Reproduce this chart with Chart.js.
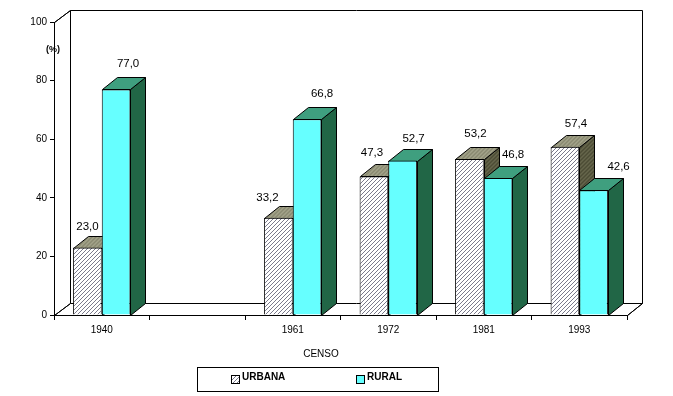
<!DOCTYPE html>
<html lang="pt">
<head>
  <meta charset="UTF-8" />
  <title>Censo - urbana e rural</title>
  <script src="https://cdn.jsdelivr.net/npm/chart.js"></script>
  <style>
    html, body { margin: 0; padding: 0; background: #fff; }
    #wrap { position: relative; width: 673px; height: 396px; }
  </style>
</head>
<body>
  <div id="wrap"><canvas id="censo" width="673" height="396"></canvas></div>
  <script>
    const years = ['1940', '', '1961', '1972', '1981', '1993'];
    const urbana = [23.0, null, 33.2, 47.3, 53.2, 57.4];
    const rural = [77.0, null, 66.8, 52.7, 46.8, 42.6];

    // label nudges from the bar's top centre, the original has them moved by hand
    const urbanaNudge = [[0, -21], null, [-11, -20], [-2, -24], [6, -25], [11, -23]];
    const ruralNudge = [[12, -26], null, [15, -25], [11, -22], [15, -23], [25, -23]];

    const depthX = 15;
    const depthY = 12;

    function hatch(bg, fg) {
      const c = document.createElement('canvas');
      c.width = c.height = 4;
      const x = c.getContext('2d');
      x.fillStyle = bg;
      x.fillRect(0, 0, 4, 4);
      x.fillStyle = fg;
      for (let i = 0; i < 4; i++) x.fillRect(i, 3 - i, 1, 1);
      return x.createPattern(c, 'repeat');
    }

    function poly(ctx, pts, fill) {
      ctx.beginPath();
      pts.forEach((p, i) => i ? ctx.lineTo(p[0], p[1]) : ctx.moveTo(p[0], p[1]));
      ctx.closePath();
      if (fill) {
        ctx.fillStyle = fill;
        ctx.fill();
      }
      ctx.strokeStyle = '#000';
      ctx.lineWidth = 1;
      ctx.stroke();
    }

    const faces = [
      { top: hatch('#a3a38a', '#6f6f58'), side: hatch('#66664c', '#33331f') },
      { top: '#3f9f7f', side: '#216646' }
    ];

    function drawDepth(chart, index) {
      const ctx = chart.ctx;
      const face = faces[index];
      const values = chart.data.datasets[index].data;
      ctx.save();
      ctx.translate(0.5, 0.5);
      chart.getDatasetMeta(index).data.forEach((bar, j) => {
        if (values[j] === null) return;
        const w = bar.width / 2;
        const l = Math.round(bar.x - w);
        const r = Math.round(bar.x + w);
        const t = Math.round(bar.y);
        const b = Math.round(bar.base);
        poly(ctx, [[r, t], [r + depthX, t - depthY], [r + depthX, b - depthY], [r, b]], face.side);
        poly(ctx, [[l, t], [l + depthX, t - depthY], [r + depthX, t - depthY], [r, t]], face.top);
      });
      ctx.restore();
    }

    const box3d = {
      id: 'box3d',
      beforeDatasetsDraw(chart) {
        const ctx = chart.ctx;
        const a = chart.chartArea;
        ctx.save();
        ctx.translate(0.5, 0.5);
        // back wall and floor
        poly(ctx, [[a.left + depthX + 1, a.top - depthY], [a.right + depthX, a.top - depthY], [a.right + depthX, a.bottom - depthY], [a.left + depthX + 1, a.bottom - depthY]], '#fff');
        poly(ctx, [[a.left, a.bottom], [a.left + depthX + 1, a.bottom - depthY]]);
        poly(ctx, [[a.right, a.bottom], [a.right + depthX, a.bottom - depthY]]);
        poly(ctx, [[a.left, a.top], [a.left + depthX + 1, a.top - depthY]]);
        ctx.restore();
      },
      // chart.js paints dataset 1 first, here rural has to go over urbana
      beforeDatasetDraw(chart, args) {
        if (args.index === 1) return false;
        drawDepth(chart, 0);
      },
      afterDatasetDraw(chart, args) {
        if (args.index !== 0) return;
        drawDepth(chart, 1);
        chart.getDatasetMeta(1).controller.draw();
      },
      afterDatasetsDraw(chart) {
        const ctx = chart.ctx;
        const nudges = [urbanaNudge, ruralNudge];
        ctx.save();
        ctx.fillStyle = '#000';
        ctx.font = '11.5px "Liberation Sans"';
        ctx.textAlign = 'center';
        ctx.textBaseline = 'middle';
        chart.data.datasets.forEach((ds, i) => {
          chart.getDatasetMeta(i).data.forEach((bar, j) => {
            if (ds.data[j] === null) return;
            const n = nudges[i][j];
            ctx.fillText(ds.data[j].toFixed(1).replace('.', ','), bar.x + n[0], bar.y + n[1]);
          });
        });
        ctx.font = 'bold 9px "Liberation Sans"';
        ctx.fillText('(%)', 53, 50);

        // axis title sits left of centre in the original
        ctx.font = '10px "Liberation Sans"';
        ctx.fillText('CENSO', 321, 354);

        // legend
        ctx.textAlign = 'left';
        ctx.strokeStyle = '#000';
        ctx.lineWidth = 1;
        ctx.strokeRect(197.5, 367.5, 241, 24);
        ctx.font = 'bold 10px "Liberation Sans"';
        const slots = [231, 356];
        chart.data.datasets.forEach((ds, i) => {
          ctx.fillStyle = ds.backgroundColor;
          ctx.fillRect(slots[i], 375, 8, 8);
          ctx.strokeRect(slots[i] + 0.5, 375.5, 8, 8);
          ctx.fillStyle = '#000';
          ctx.fillText(ds.label, slots[i] + 11, 377);
        });
        ctx.restore();
      }
    };

    new Chart(document.getElementById('censo'), {
      type: 'bar',
      data: {
        labels: years,
        datasets: [
          { label: 'URBANA', data: urbana, backgroundColor: hatch('#ffffff', '#7a7a8c') },
          { label: 'RURAL', data: rural, backgroundColor: '#66ffff' }
        ]
      },
      plugins: [box3d],
      options: {
        responsive: false,
        animation: false,
        layout: { padding: { top: 22, right: 46, left: 0, bottom: 0 } },
        datasets: {
          bar: { barPercentage: 1, categoryPercentage: 0.6, borderColor: '#000', borderWidth: 1, clip: false }
        },
        plugins: { legend: { display: false }, tooltip: { enabled: false } },
        scales: {
          x: {
            afterFit(scale) { scale.height = 81; },
            ticks: { color: '#000', font: { family: 'Liberation Sans', size: 10 }, maxRotation: 0, autoSkip: false, padding: 4 },
            grid: { drawOnChartArea: false, color: '#000', tickLength: 5 },
            border: { color: '#000' }
          },
          y: {
            min: 0,
            max: 100,
            afterFit(scale) { scale.width = 54; },
            ticks: { stepSize: 20, color: '#000', font: { family: 'Liberation Sans', size: 10 }, padding: 3 },
            grid: { drawOnChartArea: false, color: '#000', tickLength: 4 },
            border: { color: '#000' }
          }
        }
      }
    });
  </script>
</body>
</html>
